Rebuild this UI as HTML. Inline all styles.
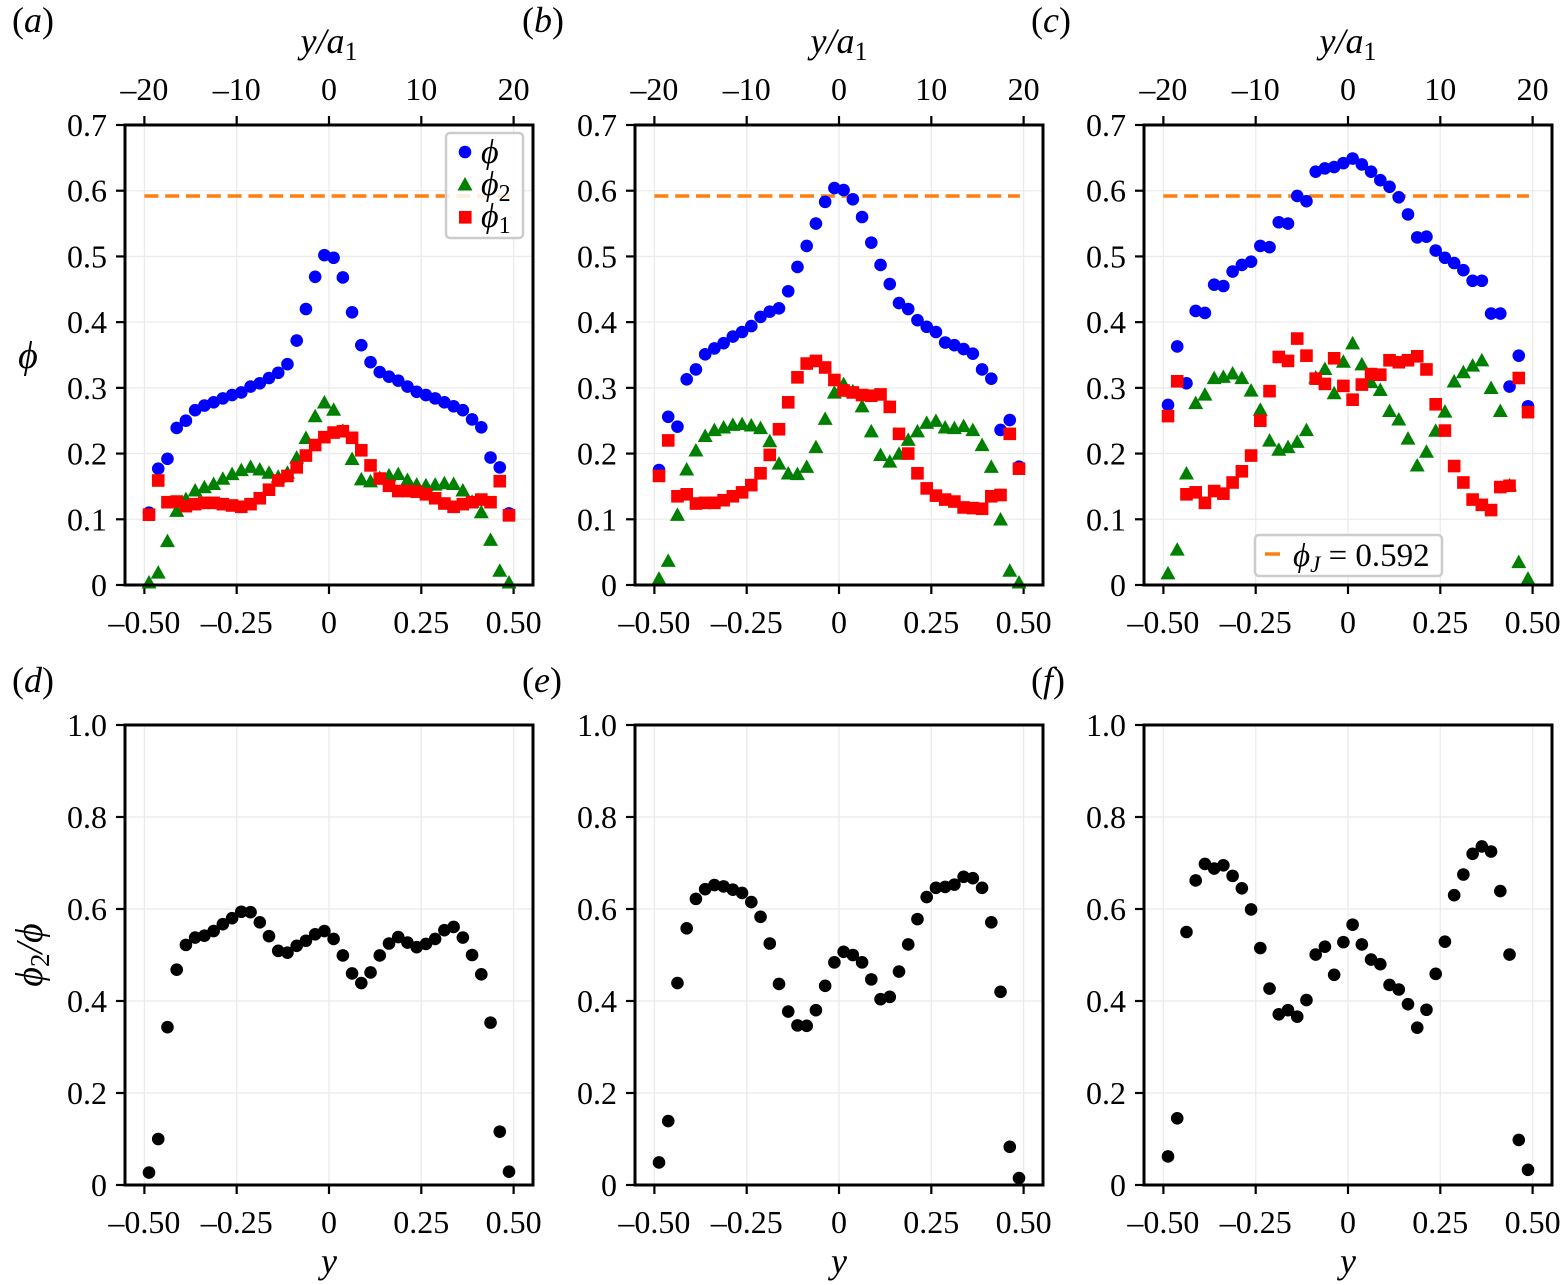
<!DOCTYPE html>
<html><head><meta charset="utf-8"><style>
html,body{margin:0;padding:0;background:#fff;}
svg{display:block;font-family:"Liberation Serif","Times New Roman",serif;}
</style></head><body>
<svg id="fig" width="1563" height="1285" viewBox="0 0 1563 1285" xmlns="http://www.w3.org/2000/svg" font-family="Liberation Serif, serif">
</svg>
<script>
// ---- data ----
const yPos = [-0.4875,-0.4625,-0.4375,-0.4125,-0.3875,-0.3625,-0.3375,-0.3125,-0.2875,-0.2625,-0.2375,-0.2125,-0.1875,-0.1625,-0.1375,-0.1125,-0.0875,-0.0625,-0.0375,-0.0125,0.0125,0.0375,0.0625,0.0875,0.1125,0.1375,0.1625,0.1875,0.2125,0.2375,0.2625,0.2875,0.3125,0.3375,0.3625,0.3875,0.4125,0.4375,0.4625,0.4875];
const phiA = [0.110,0.177,0.192,0.239,0.250,0.266,0.273,0.278,0.284,0.289,0.293,0.302,0.307,0.315,0.323,0.336,0.372,0.420,0.469,0.502,0.498,0.468,0.415,0.365,0.339,0.324,0.317,0.311,0.302,0.294,0.289,0.284,0.278,0.272,0.266,0.252,0.240,0.194,0.179,0.109];
const phi2A = [0.003,0.018,0.066,0.112,0.130,0.143,0.148,0.153,0.161,0.168,0.174,0.179,0.175,0.170,0.164,0.170,0.193,0.223,0.256,0.277,0.266,0.234,0.191,0.160,0.157,0.162,0.166,0.168,0.159,0.152,0.151,0.152,0.154,0.153,0.143,0.126,0.110,0.068,0.021,0.003];
const phi1A = [0.107,0.159,0.126,0.127,0.120,0.123,0.125,0.125,0.123,0.121,0.119,0.123,0.132,0.145,0.159,0.166,0.179,0.197,0.213,0.225,0.232,0.234,0.224,0.205,0.182,0.162,0.151,0.143,0.143,0.142,0.138,0.132,0.124,0.119,0.123,0.126,0.130,0.126,0.158,0.106];
const phiB = [0.175,0.256,0.241,0.313,0.328,0.351,0.360,0.368,0.378,0.385,0.394,0.408,0.416,0.421,0.447,0.484,0.516,0.550,0.583,0.604,0.601,0.587,0.560,0.521,0.487,0.458,0.429,0.420,0.403,0.393,0.385,0.369,0.365,0.359,0.352,0.328,0.314,0.236,0.251,0.180];
const phi2B = [0.009,0.036,0.106,0.175,0.204,0.226,0.235,0.239,0.243,0.244,0.242,0.238,0.218,0.184,0.169,0.168,0.179,0.209,0.252,0.292,0.305,0.294,0.271,0.233,0.197,0.187,0.199,0.220,0.233,0.246,0.249,0.239,0.238,0.241,0.235,0.212,0.179,0.099,0.021,0.003];
const phi1B = [0.166,0.220,0.135,0.138,0.124,0.125,0.125,0.129,0.135,0.141,0.152,0.170,0.198,0.237,0.278,0.316,0.337,0.341,0.331,0.312,0.296,0.293,0.289,0.288,0.290,0.271,0.230,0.200,0.170,0.147,0.136,0.130,0.127,0.118,0.117,0.116,0.135,0.137,0.230,0.177];
const phiC = [0.274,0.363,0.307,0.417,0.414,0.457,0.455,0.477,0.487,0.492,0.516,0.514,0.552,0.550,0.592,0.584,0.629,0.634,0.636,0.642,0.649,0.640,0.629,0.616,0.606,0.590,0.564,0.529,0.530,0.509,0.498,0.490,0.479,0.463,0.463,0.413,0.413,0.302,0.349,0.272];
const phi2C = [0.017,0.053,0.169,0.276,0.289,0.314,0.316,0.321,0.314,0.295,0.266,0.219,0.205,0.209,0.217,0.235,0.315,0.328,0.291,0.339,0.367,0.335,0.308,0.296,0.264,0.251,0.222,0.181,0.202,0.234,0.263,0.309,0.323,0.333,0.341,0.299,0.264,0.151,0.034,0.009];
const phi1C = [0.257,0.310,0.138,0.141,0.125,0.143,0.139,0.156,0.173,0.197,0.250,0.295,0.347,0.341,0.375,0.349,0.314,0.306,0.345,0.303,0.282,0.305,0.321,0.320,0.342,0.339,0.342,0.348,0.328,0.275,0.235,0.181,0.156,0.130,0.122,0.114,0.149,0.151,0.315,0.263];
const ratioD = [0.027,0.100,0.343,0.468,0.522,0.538,0.542,0.552,0.567,0.580,0.594,0.593,0.571,0.541,0.509,0.505,0.520,0.531,0.545,0.552,0.535,0.499,0.460,0.439,0.462,0.499,0.525,0.539,0.527,0.517,0.524,0.535,0.554,0.561,0.538,0.500,0.458,0.353,0.116,0.029];
const ratioE = [0.049,0.139,0.439,0.558,0.622,0.643,0.652,0.649,0.642,0.635,0.615,0.583,0.525,0.437,0.377,0.347,0.346,0.380,0.433,0.484,0.507,0.500,0.484,0.447,0.404,0.409,0.464,0.523,0.578,0.626,0.646,0.648,0.653,0.670,0.667,0.646,0.571,0.420,0.083,0.015];
const ratioF = [0.062,0.145,0.550,0.662,0.698,0.688,0.695,0.672,0.645,0.599,0.515,0.427,0.371,0.380,0.366,0.402,0.501,0.518,0.457,0.528,0.566,0.523,0.490,0.480,0.435,0.425,0.393,0.342,0.381,0.459,0.529,0.630,0.675,0.720,0.736,0.725,0.639,0.501,0.098,0.033];
const phiJ = [0.592];
const xTicks = [-0.5,-0.25,0,0.25,0.5];
const xTickLabels = ["\u20130.50","\u20130.25","0","0.25","0.50"];
const topTicks = [-20,-10,0,10,20];
const topTickLabels = ["\u201320","\u201310","0","10","20"];
const yTicksTop = [0,0.1,0.2,0.3,0.4,0.5,0.6,0.7];
const yTickLabelsTop = ["0","0.1","0.2","0.3","0.4","0.5","0.6","0.7"];
const yTicksBot = [0,0.2,0.4,0.6,0.8,1.0];
const yTickLabelsBot = ["0","0.2","0.4","0.6","0.8","1.0"];

// ---- drawing ----
const NS="http://www.w3.org/2000/svg";
const svg=document.getElementById('fig');
const FF='Liberation Serif, serif';
function mk(tag,attrs,parent){const e=document.createElementNS(NS,tag);for(const k in attrs)e.setAttribute(k,attrs[k]);if(tag==='text')e.setAttribute('font-family',FF);(parent||svg).appendChild(e);return e;}
const XMIN=-0.5525,XMAX=0.5525,W=408,H=460;
function makePanel(left,top,ymax,name){
  const g=mk('g',{});
  
  
  return {g,left,top,
    sx:v=>left+(v-XMIN)/(XMAX-XMIN)*W,
    sy:v=>top+H-v/ymax*H};
}
function axes(p,yT,yL,showTopAxis,showXTitle){
  const gg=mk('g',{},p.g);
  
  
  xTicks.forEach(v=>mk('line',{x1:p.sx(v),x2:p.sx(v),y1:p.top,y2:p.top+H,stroke:'#ebebeb','stroke-width':1.3},gg));
  yT.forEach(v=>mk('line',{x1:p.left,x2:p.left+W,y1:p.sy(v),y2:p.sy(v),stroke:'#ebebeb','stroke-width':1.3},gg));
  const xa=mk('g',{},p.g);
  
  
  xTicks.forEach((v,i)=>{
    mk('line',{x1:p.sx(v),x2:p.sx(v),y1:p.top+H,y2:p.top+H+9,stroke:'#000','stroke-width':2.2},xa);
    const t=mk('text',{x:p.sx(v),y:p.top+H+48,'font-size':32,'text-anchor':'middle'},xa);
    t.textContent=xTickLabels[i];
  });
  if(showTopAxis){
    const ta=mk('g',{},p.g);
    
    
    topTicks.forEach((v,i)=>{
      const x=p.sx(v/40);
      mk('line',{x1:x,x2:x,y1:p.top,y2:p.top-9,stroke:'#000','stroke-width':2.2},ta);
      const t=mk('text',{x:x,y:p.top-25,'font-size':32,'text-anchor':'middle'},ta);
      t.textContent=topTickLabels[i];
    });
    const tt=mk('text',{x:p.sx(0),y:p.top-72,'font-size':36,'text-anchor':'middle','font-style':'italic'},ta);
    
    
    tt.innerHTML='y/a<tspan font-style="normal" font-size="26" dy="7">1</tspan>';
  }
  if(showXTitle){
    const t=mk('text',{x:p.sx(0),y:p.top+H+88,'font-size':36,'text-anchor':'middle','font-style':'italic'},p.g);
    
    
    t.textContent='y';
  }
  const ya=mk('g',{},p.g);
  
  
  yT.forEach((v,i)=>{
    mk('line',{x1:p.left,x2:p.left-9,y1:p.sy(v),y2:p.sy(v),stroke:'#000','stroke-width':2.2},ya);
    const t=mk('text',{x:p.left-18,y:p.sy(v)+11,'font-size':32,'text-anchor':'end'},ya);
    t.textContent=yL[i];
  });
}
function frame(p){
  const r=mk('rect',{x:p.left,y:p.top,width:W,height:H,fill:'none',stroke:'#000','stroke-width':3},p.g);
  
  
}
function circles(p,vals,color,name){
  const g=mk('g',{},p.g);
  
  
  vals.forEach((v,i)=>{
    const c=mk('circle',{cx:p.sx(yPos[i]),cy:p.sy(v),r:6.3,fill:color},g);
    
    
  });
}
function tris(p,vals,name){
  const g=mk('g',{},p.g);
  
  
  vals.forEach((v,i)=>{
    const x=p.sx(yPos[i]),y=p.sy(v);
    const t=mk('polygon',{points:`${x},${y-8} ${x-7.5},${y+5.5} ${x+7.5},${y+5.5}`,fill:'#008000'},g);
    
    
  });
}
function squares(p,vals,name){
  const g=mk('g',{},p.g);
  
  
  vals.forEach((v,i)=>{
    const s=mk('rect',{x:p.sx(yPos[i])-6.3,y:p.sy(v)-6.3,width:12.6,height:12.6,fill:'#ff0000'},g);
    
    
  });
}
function jamLine(p){
  const l=mk('line',{x1:p.sx(-0.5),x2:p.sx(0.49),y1:p.sy(phiJ[0]),y2:p.sy(phiJ[0]),stroke:'#ff7f0e','stroke-width':3.5,'stroke-dasharray':'14 6.8'},p.g);
  
  
}
function label(x,y,letter){
  const t=mk('text',{x:x,y:y,'font-size':36},svg);
  
  
  t.innerHTML='(<tspan font-style="italic">'+letter+'</tspan>)';
}
const lefts=[125,635,1144];
const tops=[[phiA,phi2A,phi1A],[phiB,phi2B,phi1B],[phiC,phi2C,phi1C]];
const bots=[ratioD,ratioE,ratioF];
const letters=['a','b','c','d','e','f'];
lefts.forEach((L,k)=>{
  const p=makePanel(L,125,0.7,'panel-'+letters[k]);
  axes(p,yTicksTop,yTickLabelsTop,true,false);
  jamLine(p);
  circles(p,tops[k][0],'#0000ff','phi-series');
  tris(p,tops[k][1],'phi2-series');
  squares(p,tops[k][2],'phi1-series');
  frame(p);
  label(L-113,32,letters[k]);
  const q=makePanel(L,725,1.0,'panel-'+letters[k+3]);
  axes(q,yTicksBot,yTickLabelsBot,false,true);
  circles(q,bots[k],'#000','ratio-series');
  frame(q);
  label(L-113,692,letters[k+3]);
});
// y titles
const yt1=mk('text',{x:28,y:368,'font-size':38,'font-style':'italic','text-anchor':'middle'});


yt1.textContent='\u03d5';
const yt2=mk('text',{x:0,y:0,'font-size':38,'font-style':'italic','text-anchor':'middle',transform:'translate(42,955) rotate(-90)'});


yt2.innerHTML='\u03d5<tspan font-style="normal" font-size="27" dy="7">2</tspan><tspan dy="-7">/\u03d5</tspan>';
// legend a
const lg=mk('g',{});


mk('rect',{x:446,y:133,width:77,height:105,rx:4,fill:'#fff','fill-opacity':0.85,stroke:'#cccccc','stroke-width':2.5},lg);
mk('circle',{cx:465,cy:152,r:6.3,fill:'#0000ff'},lg);
mk('polygon',{points:'465,177 457.5,190.5 472.5,190.5',fill:'#008000'},lg);
mk('rect',{x:459,y:211,width:12.6,height:12.6,fill:'#ff0000'},lg);
const l1=mk('text',{x:481,y:163,'font-size':34,'font-style':'italic'},lg);l1.textContent='\u03d5';
const l2=mk('text',{x:481,y:195,'font-size':34,'font-style':'italic'},lg);l2.innerHTML='\u03d5<tspan font-style="normal" font-size="24" dy="6">2</tspan>';
const l3=mk('text',{x:481,y:227,'font-size':34,'font-style':'italic'},lg);l3.innerHTML='\u03d5<tspan font-style="normal" font-size="24" dy="6">1</tspan>';
// legend c
const lc=mk('g',{});


mk('rect',{x:1255,y:535,width:187,height:41,rx:4,fill:'#fff','fill-opacity':0.85,stroke:'#cccccc','stroke-width':2.5},lc);
mk('line',{x1:1265,x2:1280,y1:554,y2:554,stroke:'#ff7f0e','stroke-width':3.5},lc);
const lct=mk('text',{x:1293,y:566,'font-size':33},lc);
lct.innerHTML='<tspan font-style="italic">\u03d5</tspan><tspan font-style="italic" font-size="23" dy="6">J</tspan><tspan dy="-6"> = 0.592</tspan>';
</script>
</body></html>
